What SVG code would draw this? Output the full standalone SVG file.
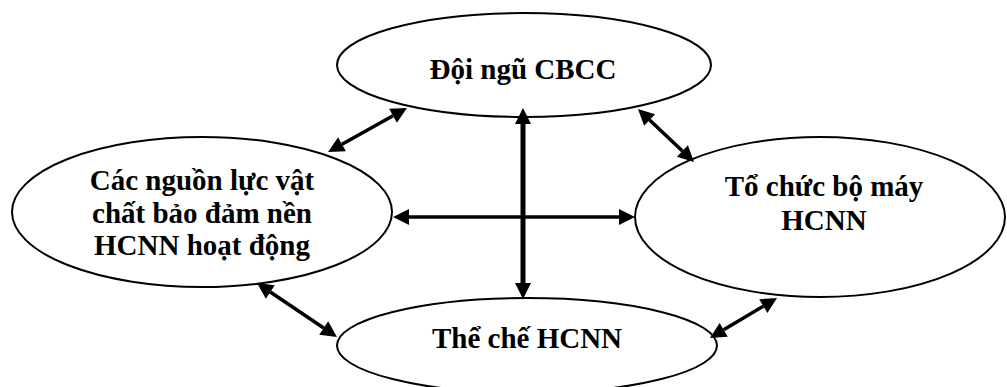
<svg xmlns="http://www.w3.org/2000/svg" width="1007" height="387" viewBox="0 0 1007 387">
<style>
.node ellipse{fill:#fff;stroke:#000;stroke-width:2}
.node text{font-family:'Liberation Serif','Times New Roman',serif;font-weight:700;font-size:29px;fill:#000;text-anchor:middle}
.conn line{stroke:#000;stroke-width:3.5;marker-start:url(#ah);marker-end:url(#ah)}
.conn line.thick{stroke-width:5}
</style>
<defs>
<marker id="ah" markerUnits="userSpaceOnUse" markerWidth="17" markerHeight="16" refX="0" refY="8" orient="auto-start-reverse" overflow="visible">
<path d="M0,0 L16,8 L0,16 Z" fill="#000"/>
</marker>
</defs>
<rect width="1007" height="387" fill="#fff"/>
<g id="node-cbcc" class="node">
<ellipse cx="524" cy="65" rx="187" ry="52"/>
<text x="523" y="79">Đội ngũ CBCC</text>
</g>
<g id="node-nguonluc" class="node">
<ellipse cx="202" cy="212" rx="190" ry="75"/>
<text x="202" y="190">Các nguồn lực vật</text>
<text x="202" y="223">chất bảo đảm nền</text>
<text x="202" y="255">HCNN hoạt động</text>
</g>
<g id="node-tochuc" class="node">
<ellipse cx="820" cy="217" rx="185" ry="80"/>
<text x="824" y="196">Tổ chức bộ máy</text>
<text x="824" y="230">HCNN</text>
</g>
<g id="node-theche" class="node">
<ellipse cx="527" cy="345.5" rx="190" ry="47.5"/>
<text x="527" y="348">Thể chế HCNN</text>
</g>
<g id="connectors" class="conn">
<line class="thick" x1="523" y1="124" x2="523" y2="283"/>
<line x1="409" y1="217" x2="619" y2="217"/>
<line x1="342" y1="144.2" x2="393" y2="115.8"/>
<line x1="649.6" y1="120" x2="682.4" y2="151"/>
<line x1="270.3" y1="292" x2="323.7" y2="328"/>
<line x1="723.7" y1="329.8" x2="763.3" y2="306.2"/>
</g>
</svg>
